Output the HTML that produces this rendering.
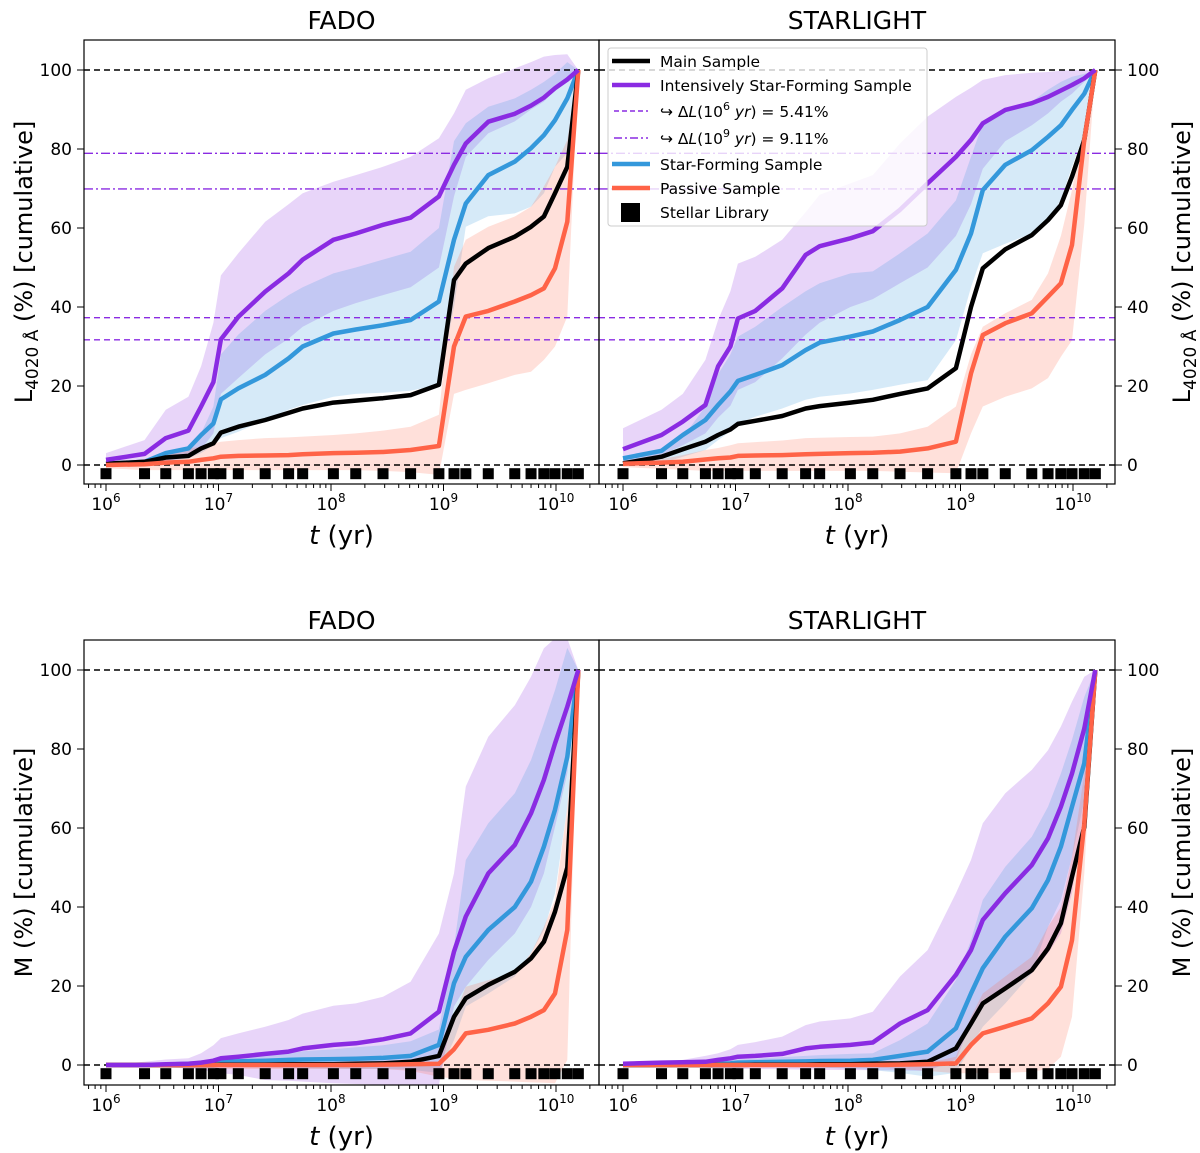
<!DOCTYPE html>
<html><head><meta charset="utf-8">
<style>
body{margin:0;background:#fff;}
svg{display:block;font-family:"DejaVu Sans","Liberation Sans",sans-serif;}
</style></head>
<body>
<svg id="fig" width="1200" height="1153" viewBox="0 0 1200 1153" xmlns="http://www.w3.org/2000/svg"></svg>
<script>
// ===== DATA =====
const ages = [1e6,2.2e6,3.4e6,5.4e6,7e6,9e6,1.05e7,1.5e7,2.6e7,4.2e7,5.6e7,1.05e8,1.66e8,2.9e8,5.1e8,9.1e8,1.24e9,1.58e9,2.5e9,4.3e9,6e9,7.8e9,9.8e9,1.26e10,1.58e10];
const libraryAges = [1e6,2.2e6,3.4e6,5.4e6,7e6,9e6,1.05e7,1.5e7,2.6e7,4.2e7,5.6e7,1.05e8,1.66e8,2.9e8,5.1e8,9.1e8,1.24e9,1.58e9,2.5e9,4.3e9,6e9,7.8e9,9.8e9,1.26e10,1.58e10];
const yTicks = [0,20,40,60,80,100];
const xTickExps = [6,7,8,9,10];
const dL6 = [37.3,31.7];
const dL9 = [78.9,69.9];

// top-left FADO (light)
const lfPur   = [1.3,2.8,6.8,8.7,14.8,21,31.8,37.5,43.9,48.5,52,57,58.6,60.8,62.6,68,76,81.4,86.9,88.9,91,93,95.4,97.6,100];
const lfPurHi = [3,6.3,14,17.3,25,36,48,53.6,61.6,66,68.8,71.7,73.4,75.5,78,82.7,89,95,97.9,100.4,102,103.4,103.8,104,100];
const lfPurLo = [0,0.3,1,2,4,8,18,22,28,32,35,39,41,43,45,50,68,78,84,87,90,92,95,98,100];
const lfBlu   = [0.3,0.8,3,4.2,7.6,10.5,16.6,19.4,22.8,27,30,33.3,34.3,35.4,36.7,41.4,57,66.2,73.4,76.8,80.2,83.5,87.3,92.8,100];
const lfBluHi = [0.5,1,2.5,4.5,8,14.8,28,33,39,43,45,48.5,50,52,54,60,82,86.5,90.7,92.8,95,97,99,102,100];
const lfBluLo = [0,0.3,0.8,1.7,3,5,6.8,8.4,11.4,14,15.2,17.3,18,18.3,18.8,20.3,40,60.3,63,63.7,65.4,68.8,75.5,79,100];
const lfBlk   = [0.3,0.8,1.9,2.3,4.2,5.5,8.2,9.7,11.4,13.2,14.3,15.8,16.3,16.9,17.7,20.3,46.8,51,54.9,57.8,60.3,62.9,68.8,75.5,100];
const lfRed   = [0,0.2,0.6,0.8,1.3,1.7,2.1,2.3,2.4,2.5,2.7,3,3.1,3.3,3.8,4.8,30,37.6,39,41.4,43,44.7,49.8,61.6,100];
const lfRedHi = [0.3,1.1,3,4.2,4.6,5.5,5.9,6.3,6.8,7,7.2,7.6,8,8.7,9.7,12.7,50.2,57,60.3,62.9,65.4,70.5,75.5,82.3,100];
const lfRedLo = [-0.8,-1.3,-1.3,-1.3,-1.3,-1.3,-1.3,-1.3,-1.3,-1.3,-1.3,-1.3,-1.3,-1.5,-1.8,-2.5,18,19,20.7,22.8,23.6,26.6,30,37.6,100];

// top-right STARLIGHT (light)
const lsPur   = [4,7.6,11,15.2,25,30,37.1,39,44.7,53.2,55.4,57.4,59.2,64.6,71.3,78,82.3,86.5,89.9,91.6,93.2,94.8,96.2,97.9,100];
const lsPurHi = [9.3,14,18,26.6,36.7,44,51,52.7,57,64,68.4,71.3,73.4,81.4,88.2,93.2,95.5,97.5,98.7,99.3,99.5,99.8,99.9,100,100];
const lsPurLo = [0.8,2.5,5,8,12,15,19,21,27,33,36,40,42,46,50,58,66,75,82,86,89,92,94,97,100];
const lsBlu   = [1.7,3.6,7.6,11.4,15.2,18.6,21.3,22.8,25.3,29.1,31,32.5,33.8,36.7,40,49.4,58.6,69.6,76,79.7,83.1,86,89.9,94,100];
const lsBluHi = [1.5,3.5,7,14.8,23,28,32.5,35,40,44,46,48.5,49,53.6,58.6,67,78,86.5,89.9,92,95,97,98.3,99,100];
const lsBluLo = [0,0.4,2.1,3.8,6.3,8.5,10.5,12.2,14.3,16.5,17.3,18.1,19,20.3,21.5,31.6,45,53.6,56,58.6,62,67,75.5,84,100];
const lsBlk   = [0.4,2.1,4,5.9,7.6,9,10.4,11.2,12.4,14.3,14.9,15.8,16.5,18,19.4,24.5,40,49.8,54.6,58.2,62,65.8,73,82.3,100];
const lsRed   = [0.3,0.6,0.8,1.4,1.7,1.9,2.3,2.4,2.5,2.7,2.8,3,3.1,3.4,4.2,5.9,23.2,32.9,35.9,38.4,42.6,46,55.7,82.3,100];
const lsRedHi = [0.6,1.5,2.5,3.8,4.3,5,5.5,5.8,6.2,6.8,6.9,7.1,7.2,8,9.7,14.8,28,35,38.4,41.8,48.5,58,69.6,86.5,100];
const lsRedLo = [-0.5,-1,-1.2,-1.5,-1.5,-1.5,-1.5,-1.5,-1.5,-1.5,-1.5,-1.5,-1.5,-1.7,-1.9,-2.1,8,14.8,17.3,19.4,22,27.4,31.6,61,100];

// bottom-left FADO (mass)
const mfPur   = [0,0,0.2,0.3,0.6,1.1,1.7,2.1,2.8,3.4,4.2,5.1,5.5,6.5,8,13.5,28.7,37.6,48.5,55.7,63.7,72.2,81.4,90.7,100];
const mfPurHi = [0,0.8,1.4,1.7,3,5,6.8,8,9.7,11.4,13,15,15.6,17.3,21.1,33.3,48.5,70.5,83.1,91.1,98.3,105.5,108,108,100];
const mfPurLo = [-0.3,-0.5,-0.6,-0.8,-1.2,-1.8,-2.1,-2.5,-3.8,-4,-4.2,-4.6,-4.8,-5,-5,-5,14.8,19.8,26.6,33.3,40,48.5,60.3,73.8,100];
const mfBlu   = [0,0,0.1,0.3,0.4,0.6,0.8,0.9,1.1,1.3,1.4,1.5,1.6,1.8,2.3,5.1,20.7,27.4,34.2,40,46.4,55.3,64.6,78,100];
const mfBluHi = [0,0.2,0.4,0.6,1,1.3,1.5,2,2.5,3,3.5,4,4.5,5,6,9,30,51.9,61.2,68.8,77.2,86.5,94.9,105.6,100];
const mfBluLo = [0,0,0,0,0,-0.3,-0.5,-0.5,-0.6,-0.7,-0.8,-0.9,-1,-1,-1.2,-2,6.3,14.8,18.1,22.4,28.3,34.2,43.5,65.4,100];
const mfBlk   = [0,0,0,0,0,0,0.1,0.1,0.1,0.2,0.2,0.2,0.3,0.4,0.8,2.3,12.2,16.9,20.3,23.6,27,31.2,38.8,50,100];
const mfRed   = [0,0,0,0,0,0,0,0,0,0,0,0,0,0.1,0.2,0.3,4,8,8.9,10.5,12.2,13.9,18.1,34.2,100];
const mfRedHi = [0,0,0,0,0.1,0.1,0.2,0.2,0.2,0.3,0.3,0.3,0.3,0.4,0.5,0.6,12.2,19.8,21.5,23.2,28.3,35,41.8,65.4,100];
const mfRedLo = [-0.5,-0.6,-0.7,-0.8,-0.8,-0.9,-1,-1,-1,-1,-1,-1,-1,-1,-1.5,-3,-3.5,-3.8,-4,-4.2,-4.4,-4.5,-4.6,1.3,100];

// bottom-right STARLIGHT (mass)
const msPur   = [0.3,0.6,0.7,0.8,1.3,1.7,2.1,2.3,2.8,4.2,4.6,5.1,5.7,10.5,13.9,22.8,29.1,36.7,43.5,50.6,57.4,65.4,73.8,85.2,100];
const msPurHi = [0.4,0.9,1.3,2.3,3,4,5.1,5.8,7.2,10.1,11,11.8,13.5,22.4,29.1,43.5,51.9,61.2,68.8,74.7,79.7,85.7,92,98.3,100];
const msPurLo = [-0.3,-0.5,-0.6,-0.7,-0.8,-0.9,-1,-1,-1.1,-1.2,-1.2,-1.3,-1.3,-1.4,-1.5,1.3,10.5,16.5,19.8,23.2,28.3,33.3,43.5,65.4,100];
const msBlu   = [0,0,0.1,0.2,0.3,0.4,0.6,0.7,0.8,0.9,1,1.1,1.3,2.3,3.4,9.3,18.1,24.5,32.5,39.7,46.8,55.3,65.4,76.4,100];
const msBluHi = [0.1,0.3,0.5,0.8,1,1.2,1.4,1.6,2,2.3,2.5,2.8,3,6.3,10.5,21.5,31.6,41.8,50.2,57.8,65.4,73.8,82.3,93.2,100];
const msBluLo = [0,0,0,0,0,-0.2,-0.3,-0.4,-0.5,-0.6,-0.7,-0.9,-1.3,-2,-3,-2,4.6,9.7,15.6,23.2,35,41.8,52.7,67,100];
const msBlk   = [0,0,0,0,0,0,0,0.1,0.1,0.1,0.2,0.2,0.3,0.4,0.8,4.2,10.5,15.6,19.4,24,29.5,35.9,47.7,60.3,100];
const msRed   = [0,0,0,0,0,0,0,0,0,0,0,0,0,0.1,0.2,0.4,5.1,8,9.7,11.8,15.6,19.8,31.6,61.2,100];
const msRedHi = [0,0,0,0,0,0.1,0.1,0.1,0.2,0.2,0.2,0.3,0.3,0.4,0.5,2.1,12.2,18.1,22.4,27.4,35,40,52.7,73.8,100];
const msRedLo = [-0.3,-0.4,-0.5,-0.5,-0.5,-0.5,-0.5,-0.5,-0.5,-0.5,-0.5,-0.5,-0.5,-1,-1.5,-2.1,-2.1,-2.1,-2,-1.7,-1,2.1,12.2,48.5,100];

// ===== DRAWING =====
const NS = "http://www.w3.org/2000/svg";
const svg = document.getElementById('fig');
function mk(tag, attrs, parent){
  const e = document.createElementNS(NS, tag);
  for (const k in attrs) e.setAttribute(k, attrs[k]);
  (parent||svg).appendChild(e);
  return e;
}
const C = {pur:'#8a2be2', blu:'#3498db', red:'#ff6347', blk:'#000000'};

function panel(id, P, title, S, side, isTop){
  const xs = t => P.x6 + (Math.log10(t) - 6) * 112.5;
  const ys = v => P.y0 - v * (P.y0 - P.y100) / 100;
  const g = mk('g', {});
  
  
  const cp = mk('clipPath', {id: 'cp-' + id}, g);
  mk('rect', {x: P.L, y: P.T, width: P.R - P.L, height: P.B - P.T}, cp);
  const plot = mk('g', {'clip-path': 'url(#cp-' + id + ')'}, g);

  function band(lo, hi, col, op, nm){
    let d = '';
    ages.forEach((t,i) => { d += (i ? 'L' : 'M') + xs(t).toFixed(1) + ',' + ys(hi[i]).toFixed(1); });
    for (let i = ages.length - 1; i >= 0; i--) d += 'L' + xs(ages[i]).toFixed(1) + ',' + ys(lo[i]).toFixed(1);
    const p = mk('path', {d: d + 'Z', fill: col, 'fill-opacity': op, stroke: 'none'}, plot);
    
    
  }
  function line(v, col, nm){
    const pts = ages.map((t,i) => xs(t).toFixed(1) + ',' + ys(v[i]).toFixed(1)).join(' ');
    const p = mk('polyline', {points: pts, fill: 'none', stroke: col, 'stroke-width': 4.5, 'stroke-linejoin': 'round'}, plot);
    
    
  }
  band(S.purLo, S.purHi, C.pur, 0.2, 'intensive-sf-band');
  band(S.bluLo, S.bluHi, C.blu, 0.2, 'star-forming-band');
  band(S.redLo, S.redHi, C.red, 0.2, 'passive-band');

  // reference lines
  [0,100].forEach(v => {
    const l = mk('line', {x1: P.L, x2: P.R, y1: ys(v), y2: ys(v), stroke: '#000', 'stroke-width': 1.6, 'stroke-dasharray': '6,4'}, plot);
    
    
  });
  if (isTop){
    dL6.forEach(v => {
      const l = mk('line', {x1: P.L, x2: P.R, y1: ys(v), y2: ys(v), stroke: C.pur, 'stroke-width': 1.4, 'stroke-dasharray': '6,4'}, plot);
      
      
    });
    dL9.forEach(v => {
      const l = mk('line', {x1: P.L, x2: P.R, y1: ys(v), y2: ys(v), stroke: C.pur, 'stroke-width': 1.4, 'stroke-dasharray': '9,3,2,3'}, plot);
      
      
    });
  }
  line(S.blu, C.blu, 'star-forming-line');
  line(S.blk, C.blk, 'main-sample-line');
  line(S.red, C.red, 'passive-line');
  line(S.pur, C.pur, 'intensive-sf-line');

  libraryAges.forEach(t => {
    const r = mk('rect', {x: xs(t) - 5.5, y: ys(-2.2) - 5.5, width: 11, height: 11, fill: '#000'}, plot);
    
    
  });

  // frame
  const fr = mk('rect', {x: P.L, y: P.T, width: P.R - P.L, height: P.B - P.T, fill: 'none', stroke: '#000', 'stroke-width': 1.2}, g);
  
  

  // x ticks
  for (let e = 5; e <= 10; e++){
    for (let m = 1; m <= 9; m++){
      const x = xs(m * Math.pow(10, e));
      if (x < P.L || x > P.R) continue;
      mk('line', {x1: x, x2: x, y1: P.B, y2: P.B + (m === 1 ? 7 : 4), stroke: '#000', 'stroke-width': 1}, g);
    }
  }
  xTickExps.forEach(e => {
    const x = xs(Math.pow(10, e));
    const t = mk('text', {x: x, y: P.B + 26, 'font-size': 17, 'text-anchor': 'middle'}, g);
    
    
    t.innerHTML = '10<tspan dy="-8" font-size="12">' + e + '</tspan>';
  });
  const xl = mk('text', {x: (P.L + P.R) / 2, y: P.B + 60, 'font-size': 26, 'text-anchor': 'middle'}, g);
  
  
  xl.innerHTML = '<tspan font-style="italic">t</tspan> (yr)';

  // y ticks
  const ax = side === 'left' ? P.L : P.R;
  const dir = side === 'left' ? -1 : 1;
  yTicks.forEach(v => {
    mk('line', {x1: ax, x2: ax + dir * 7, y1: ys(v), y2: ys(v), stroke: '#000', 'stroke-width': 1}, g);
    const t = mk('text', {x: ax + dir * 12, y: ys(v) + 6, 'font-size': 17, 'text-anchor': side === 'left' ? 'end' : 'start'}, g);
    
    
    t.textContent = v;
  });
  const yx = side === 'left' ? 24 : 1182;
  const yc = (P.T + P.B) / 2;
  const yl = mk('text', {x: yx, y: yc, 'font-size': 24, 'text-anchor': 'middle', transform: 'rotate(-90 ' + yx + ' ' + yc + ')', dy: 8}, g);
  
  
  yl.innerHTML = isTop ? 'L<tspan dy="6" font-size="17">4020 Å</tspan><tspan dy="-6"> (%) [cumulative]</tspan>' : 'M (%) [cumulative]';

  const tt = mk('text', {x: (P.L + P.R) / 2, y: P.T - 11, 'font-size': 25, 'text-anchor': 'middle'}, g);
  
  
  tt.textContent = title;
}

const topY = {T: 40, B: 484, y0: 465, y100: 70};
const botY = {T: 640, B: 1085, y0: 1065, y100: 670};
panel('light-fado', Object.assign({L: 84, R: 599, x6: 106}, topY), 'FADO',
  {pur: lfPur, purHi: lfPurHi, purLo: lfPurLo, blu: lfBlu, bluHi: lfBluHi, bluLo: lfBluLo, blk: lfBlk, red: lfRed, redHi: lfRedHi, redLo: lfRedLo}, 'left', true);
panel('light-starlight', Object.assign({L: 599, R: 1115, x6: 623}, topY), 'STARLIGHT',
  {pur: lsPur, purHi: lsPurHi, purLo: lsPurLo, blu: lsBlu, bluHi: lsBluHi, bluLo: lsBluLo, blk: lsBlk, red: lsRed, redHi: lsRedHi, redLo: lsRedLo}, 'right', true);
panel('mass-fado', Object.assign({L: 84, R: 599, x6: 106}, botY), 'FADO',
  {pur: mfPur, purHi: mfPurHi, purLo: mfPurLo, blu: mfBlu, bluHi: mfBluHi, bluLo: mfBluLo, blk: mfBlk, red: mfRed, redHi: mfRedHi, redLo: mfRedLo}, 'left', false);
panel('mass-starlight', Object.assign({L: 599, R: 1115, x6: 623}, botY), 'STARLIGHT',
  {pur: msPur, purHi: msPurHi, purLo: msPurLo, blu: msBlu, bluHi: msBluHi, bluLo: msBluLo, blk: msBlk, red: msRed, redHi: msRedHi, redLo: msRedLo}, 'right', false);

// ===== LEGEND =====
const lg = mk('g', {});


mk('rect', {x: 608, y: 48, width: 319, height: 178, rx: 3, fill: '#fff', 'fill-opacity': 0.8, stroke: '#ccc', 'stroke-width': 1}, lg);
const entries = [
  {y: 61, type: 'line', col: C.blk, txt: 'Main Sample'},
  {y: 85, type: 'line', col: C.pur, txt: 'Intensively Star-Forming Sample'},
  {y: 111, type: 'dash', col: C.pur, txt: '↪  Δ<tspan font-style="italic">L</tspan>(10<tspan dy="-7" font-size="11">6</tspan><tspan dy="7"> </tspan><tspan font-style="italic">yr</tspan>) = 5.41%'},
  {y: 138, type: 'dashdot', col: C.pur, txt: '↪  Δ<tspan font-style="italic">L</tspan>(10<tspan dy="-7" font-size="11">9</tspan><tspan dy="7"> </tspan><tspan font-style="italic">yr</tspan>) = 9.11%'},
  {y: 164, type: 'line', col: C.blu, txt: 'Star-Forming Sample'},
  {y: 188, type: 'line', col: C.red, txt: 'Passive Sample'},
  {y: 212, type: 'square', col: '#000', txt: 'Stellar Library'}
];
entries.forEach(en => {
  const eg = mk('g', {}, lg);
  
  
  if (en.type === 'line') mk('line', {x1: 612, x2: 650, y1: en.y, y2: en.y, stroke: en.col, 'stroke-width': 4.5}, eg);
  if (en.type === 'dash') mk('line', {x1: 614, x2: 648, y1: en.y, y2: en.y, stroke: en.col, 'stroke-width': 1.4, 'stroke-dasharray': '5,3'}, eg);
  if (en.type === 'dashdot') mk('line', {x1: 614, x2: 648, y1: en.y, y2: en.y, stroke: en.col, 'stroke-width': 1.4, 'stroke-dasharray': '8,3,2,3'}, eg);
  if (en.type === 'square') mk('rect', {x: 621, y: en.y - 9, width: 19, height: 19, fill: '#000'}, eg);
  const t = mk('text', {x: 660, y: en.y + 6, 'font-size': 15.5}, eg);
  t.innerHTML = en.txt;
});
</script>
</body></html>
